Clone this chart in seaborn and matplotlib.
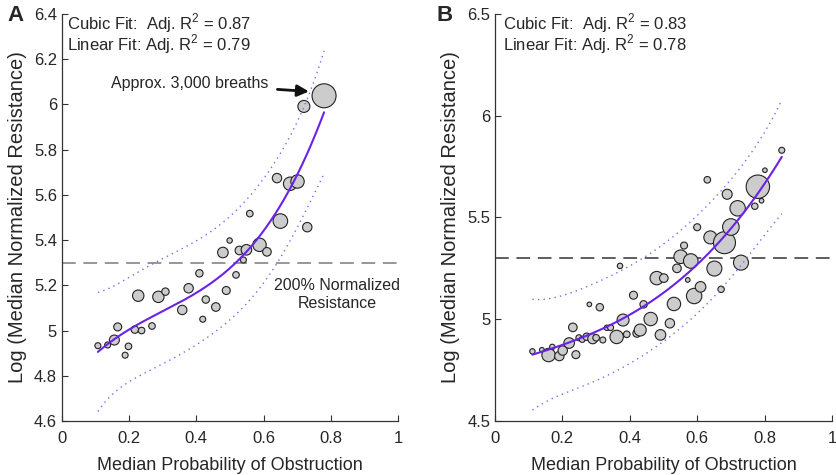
import numpy as np
import pandas as pd
import seaborn as sns
import matplotlib.pyplot as plt

# panel A data (median prob. of obstruction, log median normalized resistance, bubble radius)
a_prob = [0.107, 0.136, 0.156, 0.166, 0.198, 0.188, 0.217, 0.237, 0.227, 0.268,
          0.287, 0.308, 0.358, 0.377, 0.409, 0.428, 0.419, 0.458, 0.489, 0.518,
          0.479, 0.499, 0.528, 0.549, 0.540, 0.588, 0.610, 0.559, 0.650, 0.730,
          0.640, 0.679, 0.701, 0.720, 0.780]
a_logres = [4.933, 4.936, 4.958, 5.016, 4.930, 4.891, 5.004, 5.000, 5.154, 5.020,
            5.149, 5.172, 5.091, 5.187, 5.253, 5.137, 5.050, 5.104, 5.177, 5.246,
            5.345, 5.398, 5.354, 5.357, 5.312, 5.379, 5.348, 5.517, 5.484, 5.457,
            5.674, 5.649, 5.659, 5.991, 6.038]
a_size = [3, 3, 5, 4, 3.3, 3, 3.7, 3.3, 5.7, 3.3,
          5.7, 3.7, 4.7, 4.7, 3.7, 3.7, 3, 4.3, 4, 3.3,
          5.3, 2.7, 4.3, 5.3, 3, 6.7, 4.3, 3.3, 7.3, 4.7,
          4.7, 6.7, 6.7, 6, 12]

# panel B data
b_prob = [0.111, 0.139, 0.159, 0.170, 0.191, 0.201, 0.220, 0.240, 0.231, 0.249,
          0.259, 0.272, 0.290, 0.300, 0.320, 0.280, 0.311, 0.332, 0.343, 0.361,
          0.380, 0.391, 0.411, 0.421, 0.431, 0.441, 0.462, 0.491, 0.519, 0.531,
          0.371, 0.480, 0.501, 0.540, 0.572, 0.591, 0.610, 0.671, 0.651, 0.551,
          0.581, 0.561, 0.730, 0.639, 0.681, 0.700, 0.600, 0.720, 0.771, 0.791,
          0.851, 0.801, 0.780, 0.630, 0.689]
b_logres = [4.842, 4.850, 4.824, 4.864, 4.819, 4.846, 4.883, 4.826, 4.960, 4.909,
            4.901, 4.914, 4.904, 4.909, 4.898, 5.073, 5.059, 4.958, 4.959, 4.913,
            4.996, 4.926, 5.118, 4.931, 4.947, 5.073, 5.001, 4.923, 4.980, 5.075,
            5.262, 5.202, 5.202, 5.250, 5.193, 5.114, 5.159, 5.147, 5.249, 5.307,
            5.286, 5.362, 5.278, 5.402, 5.376, 5.453, 5.452, 5.545, 5.555, 5.582,
            5.830, 5.732, 5.651, 5.685, 5.614]
b_size = [2.7, 2.3, 6.7, 2.7, 4.7, 4.7, 5.3, 4, 4.3, 3,
          3, 3.7, 5, 3.3, 3, 2.3, 3.7, 2.7, 3, 6.7,
          6, 3.3, 4, 4, 6, 3.7, 6.7, 5.3, 4.7, 6.7,
          2.7, 6.7, 4.3, 4.3, 2.3, 7.7, 5.3, 3.2, 7.5, 6.8,
          7.3, 3.5, 7.5, 6.5, 11, 8.3, 3.5, 7.7, 3.2, 2.3,
          3, 2.3, 11.7, 3.3, 5]

a_text = ["Cubic Fit:  Adj. R$^2$ = 0.87", "Linear Fit: Adj. R$^2$ = 0.79"]
b_text = ["Cubic Fit:  Adj. R$^2$ = 0.83", "Linear Fit: Adj. R$^2$ = 0.78"]
threshold = 5.3

sns.set_style("ticks")
plt.rcParams['font.family'] = ['Liberation Sans', 'DejaVu Sans']
plt.rcParams['mathtext.fontset'] = 'custom'
plt.rcParams['mathtext.rm'] = 'Liberation Sans'

FIT_C = '#6a22e8'
PI_C = '#8466f0'


def cubic_fit(x, y, t_crit):
    # ordinary least squares cubic + prediction interval
    X = np.vander(x, 4)
    coef = np.linalg.lstsq(X, y, rcond=None)[0]
    res = y - X @ coef
    s2 = res @ res / (len(x) - 4)
    xx = np.linspace(x.min(), x.max(), 200)
    XX = np.vander(xx, 4)
    yy = XX @ coef
    cov = np.linalg.inv(X.T @ X)
    se = np.sqrt(s2 * (1 + np.einsum('ij,jk,ik->i', XX, cov, XX)))
    return xx, yy, yy - t_crit * se, yy + t_crit * se


def panel(ax, prob, logres, size, t_crit, ylim, yticks, texts, tx, dash_c):
    df = pd.DataFrame({'prob': prob, 'logres': logres, 'r': size})
    df['s'] = (2 * df['r'] * 0.72) ** 2
    ax.axhline(threshold, color=dash_c, lw=1.1, dashes=(9, 5), zorder=1)
    sns.scatterplot(data=df, x='prob', y='logres', size='s',
                    sizes=(df['s'].min(), df['s'].max()),
                    size_norm=(df['s'].min(), df['s'].max()),
                    color='#cccccc', edgecolor='#222222', linewidth=0.8,
                    legend=False, ax=ax, zorder=2)
    xx, yy, lo, hi = cubic_fit(df['prob'].values, df['logres'].values, t_crit)
    sns.lineplot(x=xx, y=yy, color=FIT_C, lw=1.5, ax=ax, zorder=3)
    sns.lineplot(x=xx, y=lo, color=PI_C, lw=1.0, ls=(0, (1, 3)), ax=ax, zorder=3)
    sns.lineplot(x=xx, y=hi, color=PI_C, lw=1.0, ls=(0, (1, 3)), ax=ax, zorder=3)
    ax.set_xlim(0, 1)
    ax.set_ylim(*ylim)
    ax.set_xticks(np.arange(0, 1.01, 0.2))
    ax.set_xticklabels(['%g' % v for v in np.arange(0, 1.01, 0.2)], fontsize=12)
    ax.set_yticks(yticks)
    ax.set_yticklabels(['%g' % v for v in yticks], fontsize=12)
    ax.tick_params(direction='in', length=4, width=0.8, color='#333333')
    ax.tick_params(axis='x', pad=7)
    ax.set_xlabel('Median Probability of Obstruction', fontsize=13, labelpad=8)
    ax.set_ylabel('Log (Median Normalized Resistance)', fontsize=14.5, labelpad=5)
    for sp in ['left', 'bottom']:
        ax.spines[sp].set_color('#333333')
        ax.spines[sp].set_linewidth(0.9)
    sns.despine(ax=ax)
    ax.text(tx, 0.978, texts[0], transform=ax.transAxes,
            ha='left', va='center', fontsize=12)
    ax.text(tx, 0.925, texts[1], transform=ax.transAxes,
            ha='left', va='center', fontsize=12)


fig = plt.figure(figsize=(8.37, 4.75), dpi=100)
axA = fig.add_axes([0.074, 0.1137, 0.4015, 0.857])
axB = fig.add_axes([0.5914, 0.1137, 0.4026, 0.857])

panel(axA, a_prob, a_logres, a_size, 2.04, (4.6, 6.4),
      np.round(np.arange(4.6, 6.41, 0.2), 1), a_text, 0.015, '#7a7a7a')
panel(axB, b_prob, b_logres, b_size, 2.01, (4.5, 6.5),
      [4.5, 5, 5.5, 6, 6.5], b_text, 0.025, '#333333')

axA.annotate('Approx. 3,000 breaths', xy=(0.735, 6.057), xytext=(0.615, 6.092),
             ha='right', va='center', fontsize=11.5,
             arrowprops=dict(arrowstyle='-|>,head_length=0.6,head_width=0.3',
                             color='#111111', lw=2, shrinkA=4, shrinkB=0))
axA.text(0.818, 5.16, '200% Normalized\nResistance', ha='center', va='center',
         fontsize=11.5, linespacing=1.25)

fig.text(0.009, 0.968, 'A', fontsize=16, fontweight='bold', va='center')
fig.text(0.521, 0.968, 'B', fontsize=16, fontweight='bold', va='center')

fig.savefig('out.png', dpi=100)
